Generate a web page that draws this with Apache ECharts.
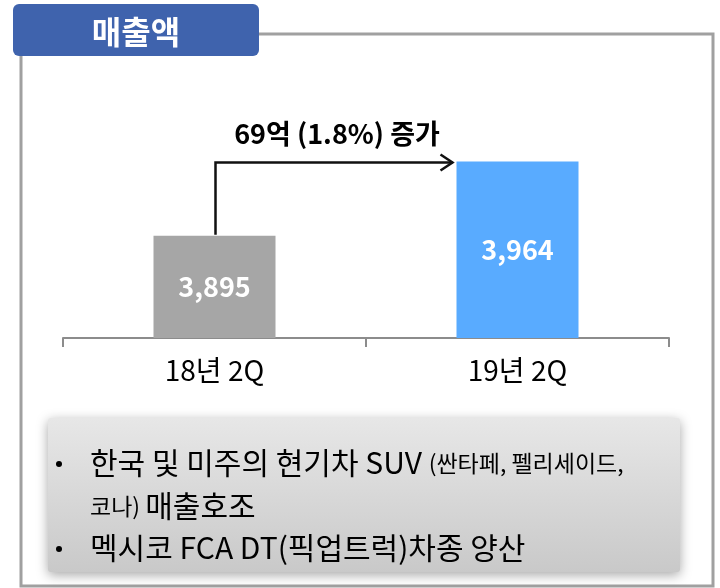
<!DOCTYPE html>
<html>
<head>
<meta charset="utf-8">
<script src="https://cdn.jsdelivr.net/npm/echarts@6/dist/echarts.min.js"></script>
<style>
  html, body { margin: 0; padding: 0; background: #fff; }
  #chart { width: 720px; height: 588px; }
</style>
</head>
<body>
<div id="chart"></div>
<script>
const categories = ['18년 2Q', '19년 2Q']
const sales = [3895, 3964]
const barColors = ['#a6a6a6', '#59abff']
const title = '매출액'
const changeText = '69억 (1.8%) 증가'
const notes = [
  ['한국 및 미주의 현기차 SUV ', '(싼타페, 펠리세이드,'],
  ['코나) ', '매출호조'],
  ['멕시코 FCA DT(픽업트럭)차종 양산'],
]

const FONT = '"Noto Sans CJK KR", "Noto Sans", sans-serif'
const chart = echarts.init(document.getElementById('chart'))
const barWidth = 122

const option = {
  backgroundColor: '#fff',
  animation: false,
  grid: { left: 63, right: 51, top: 69, bottom: 250 },
  xAxis: {
    type: 'category',
    data: categories,
    axisLine: { lineStyle: { color: '#8c8c8c', width: 2 } },
    axisTick: { show: true, length: 9, alignWithLabel: false, lineStyle: { color: '#8c8c8c', width: 2 } },
    axisLabel: { color: '#000', fontSize: 28, fontFamily: FONT, margin: 18 },
  },
  yAxis: {
    type: 'value',
    min: 3800,
    max: 4050,
    show: false,
    splitLine: { show: false },
  },
  series: [
    {
      type: 'bar',
      barWidth: barWidth,
      data: sales.map((v, i) => ({ value: v, itemStyle: { color: barColors[i] } })),
      label: {
        show: true,
        position: 'inside',
        color: '#fff',
        fontSize: 27,
        fontWeight: 'bold',
        fontFamily: FONT,
        formatter: p => p.value.toLocaleString('en-US'),
      },
    },
  ],
}
chart.setOption(option)

// annotation: arrow from first bar top to second bar
const p1 = chart.convertToPixel({ seriesIndex: 0 }, [0, sales[0]])
const p2 = chart.convertToPixel({ seriesIndex: 0 }, [1, sales[1]])
const ax = p1[0] + 1
const ay = p2[1] + 1
const ex = p2[0] - barWidth / 2 - 4

// bottom-axis ticks at the category boundaries
const t0 = chart.convertToPixel({ seriesIndex: 0 }, [0, 3800])
const t1 = chart.convertToPixel({ seriesIndex: 0 }, [1, 3800])
const band = t1[0] - t0[0]
const ticks = [t0[0] - band / 2, t0[0] + band / 2, t1[0] + band / 2].map(x => ({
  type: 'line',
  shape: { x1: x, y1: t0[1], x2: x, y2: t0[1] + 9 },
  style: { stroke: '#8c8c8c', lineWidth: 2 },
  z: 5,
}))

const noteLines = notes.map((line, i) => {
  const rich = {
    a: { fontSize: 30, fontFamily: FONT, color: '#000' },
    b: { fontSize: 23, fontFamily: FONT, color: '#000' },
  }
  let text
  if (i === 0) text = `{a|${line[0]}}{b|${line[1]}}`
  else if (i === 1) text = `{b|${line[0]}}{a|${line[1]}}`
  else text = `{a|${line[0]}}`
  return {
    type: 'text',
    x: 90,
    y: [463, 506, 548][i],
    style: { text: text, rich: rich, verticalAlign: 'middle' },
    z: 10,
  }
})

chart.setOption({
  graphic: [
    {
      type: 'rect',
      shape: { x: 21, y: 34, width: 692, height: 552 },
      style: { fill: 'none', stroke: '#a0a0a0', lineWidth: 3 },
      z: 1,
    },
    {
      type: 'rect',
      shape: { x: 13, y: 4, width: 246, height: 52, r: 6 },
      style: { fill: '#3f63ad' },
      z: 5,
    },
    {
      type: 'text',
      x: 136,
      y: 32,
      style: {
        text: title,
        fill: '#fff',
        font: `bold 32px ${FONT}`,
        textAlign: 'center',
        textVerticalAlign: 'middle',
      },
      z: 6,
    },
    {
      type: 'polyline',
      shape: { points: [[ax, p1[1] - 1], [ax, ay], [ex, ay]] },
      style: { stroke: '#111', lineWidth: 2.5, fill: 'none' },
      z: 5,
    },
    {
      type: 'polyline',
      shape: { points: [[ex - 12, ay - 8], [ex, ay], [ex - 12, ay + 8]] },
      style: { stroke: '#111', lineWidth: 2.5, fill: 'none' },
      z: 5,
    },
    {
      type: 'text',
      x: (ax + ex) / 2 + 3,
      y: ay - 29,
      style: {
        text: changeText,
        fill: '#000',
        font: `bold 27px ${FONT}`,
        textAlign: 'center',
        textVerticalAlign: 'middle',
      },
      z: 5,
    },
    ...ticks,
    {
      type: 'rect',
      shape: { x: 48, y: 418, width: 632, height: 154, r: 3 },
      style: {
        fill: new echarts.graphic.LinearGradient(0, 0, 0, 1, [
          { offset: 0, color: '#e7e7e7' },
          { offset: 1, color: '#c9c9c9' },
        ]),
        shadowBlur: 12,
        shadowColor: 'rgba(0,0,0,0.35)',
        shadowOffsetY: 3,
      },
      z: 8,
    },
    {
      type: 'circle',
      shape: { cx: 59, cy: 464, r: 3 },
      style: { fill: '#000' },
      z: 10,
    },
    {
      type: 'circle',
      shape: { cx: 59, cy: 549, r: 3 },
      style: { fill: '#000' },
      z: 10,
    },
    ...noteLines,
  ],
})

window.addEventListener('resize', () => chart.resize())
</script>
</body>
</html>
